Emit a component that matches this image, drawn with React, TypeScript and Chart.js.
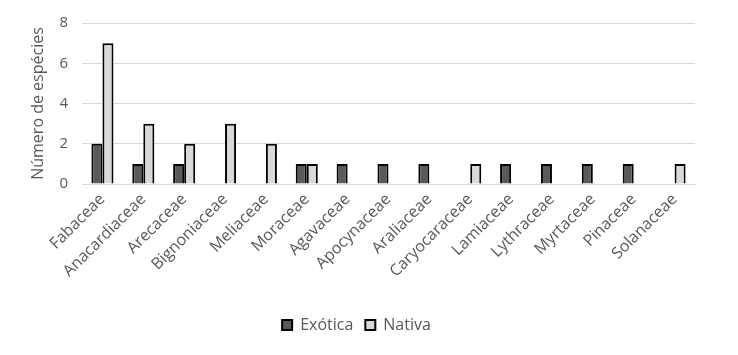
import React, { useEffect, useRef } from "react";
import { Chart, registerables } from "chart.js";

Chart.register(...registerables);

const categories = [
  "Fabaceae", "Anacardiaceae", "Arecaceae", "Bignoniaceae", "Meliaceae", "Moraceae",
  "Agavaceae", "Apocynaceae", "Araliaceae", "Caryocaraceae", "Lamiaceae", "Lythraceae",
  "Myrtaceae", "Pinaceae", "Solanaceae",
];
const exotica = [2, 1, 1, 0, 0, 1, 1, 1, 1, 0, 1, 1, 1, 1, 0];
const nativa = [7, 3, 2, 3, 2, 1, 0, 0, 0, 1, 0, 0, 0, 0, 1];
const yTicks = [0, 2, 4, 6, 8];

const FONT = "'Open Sans', 'Liberation Sans', sans-serif";
const GRAY = "#595959";

export default function App() {
  const ref = useRef<HTMLCanvasElement | null>(null);
  useEffect(() => {
    if (!ref.current) return;
    const chart = new Chart(ref.current, {
      type: "bar",
      data: {
        labels: categories,
        datasets: [
          {
            label: "Exótica",
            data: exotica,
            backgroundColor: "#5a5a5a",
            borderColor: "#000000",
            borderWidth: 2,
            barPercentage: 1,
            categoryPercentage: 0.54,
          },
          {
            label: "Nativa",
            data: nativa,
            backgroundColor: "#d9d9d9",
            borderColor: "#000000",
            borderWidth: 2,
            barPercentage: 1,
            categoryPercentage: 0.54,
          },
        ],
      },
      options: {
        responsive: false,
        animation: false,
        layout: { padding: { top: 16, right: 43, left: 18, bottom: 12 } },
        plugins: {
          tooltip: { enabled: false },
          legend: {
            position: "bottom",
            labels: {
              color: GRAY,
              font: { family: FONT, size: 16 },
              boxWidth: 10,
              boxHeight: 10,
              padding: 12,
              generateLabels: (c: any) =>
                c.data.datasets.map((d: any, i: number) => ({
                  text: d.label,
                  fillStyle: d.backgroundColor,
                  strokeStyle: "#000",
                  lineWidth: 2,
                  fontColor: GRAY,
                  datasetIndex: i,
                  hidden: false,
                })),
            },
          },
        },
        scales: {
          x: {
            grid: { display: false, drawTicks: false },
            border: { display: true, color: "#d9d9d9", width: 1 },
            ticks: {
              color: GRAY,
              font: { family: FONT, size: 16 },
              maxRotation: 45,
              minRotation: 45,
              autoSkip: false,
              padding: 6,
            },
            afterFit: (s: any) => {
              s.height = 121;
            },
          },
          y: {
            min: 0,
            max: 8,
            afterBuildTicks: (s: any) => {
              s.ticks = yTicks.map((v) => ({ value: v }));
            },
            grid: { color: "#d9d9d9", drawTicks: false, lineWidth: 1 },
            border: { display: false },
            ticks: {
              color: GRAY,
              font: { family: FONT, size: 15 },
              padding: 14,
            },
            title: {
              display: true,
              text: "Número de espécies",
              color: GRAY,
              font: { family: FONT, size: 16 },
              padding: { top: 11, bottom: 4 },
            },
            afterFit: (s: any) => {
              s.width = 64;
            },
          },
        },
      },
    });
    return () => chart.destroy();
  }, []);
  return (
    <div style={{ position: "absolute", left: 0, top: 0, width: 738, height: 355, background: "#fff" }}>
      <canvas ref={ref} width={738} height={355} />
    </div>
  );
}
